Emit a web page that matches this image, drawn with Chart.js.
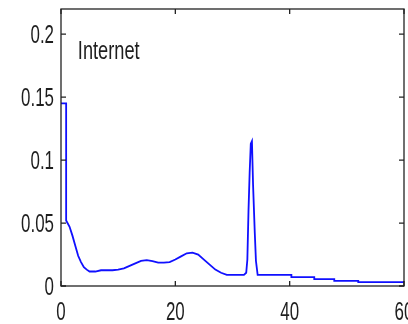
<!DOCTYPE html>
<html>
<head>
<meta charset="utf-8">
<script src="https://cdn.jsdelivr.net/npm/chart.js@4/dist/chart.umd.min.js"></script>
<style>
  html, body { margin: 0; padding: 0; background: #fff; }
  #wrap { width: 408px; height: 324px; }
</style>
</head>
<body>
<div id="wrap"><canvas id="c" width="408" height="324"></canvas></div>
<script>
// Degree distribution curve for the "Internet" dataset
const degree = [0, 0.9, 0.9, 1.5, 2.0, 2.5, 3.0, 3.5, 4.0, 4.5, 5.0, 6.0, 7.0, 9.0, 10.0, 11.0, 12.0, 13.0, 14.0, 15.0,
  16.0, 17.0, 18.0, 19.0, 20.0, 21.0, 22.0, 23.0, 24.0, 25.0, 26.0, 27.0, 28.0, 29.0, 32.0, 32.4, 32.6, 32.8, 33.0, 33.2,
  33.4, 33.6, 33.9, 34.1, 34.4, 40.3, 40.3, 44.3, 44.3, 47.8, 47.8, 52.0, 52.0, 60.0];
const frequency = [0.145, 0.145, 0.052, 0.047, 0.040, 0.032, 0.024, 0.019, 0.015, 0.013, 0.0115, 0.0115, 0.0125, 0.0125, 0.013, 0.014, 0.016, 0.018, 0.020, 0.0205,
  0.0198, 0.0185, 0.0185, 0.019, 0.021, 0.0235, 0.026, 0.0265, 0.025, 0.021, 0.017, 0.013, 0.0105, 0.0088, 0.0088, 0.0105, 0.021, 0.060, 0.090, 0.113,
  0.115, 0.080, 0.042, 0.020, 0.0088, 0.0088, 0.0070, 0.0070, 0.0054, 0.0054, 0.0041, 0.0041, 0.0030, 0.0030];

const xTickValues = [0, 20, 40, 60];
const xTickLabels = ['0', '20', '40', '60'];
const yTickValues = [0, 0.05, 0.1, 0.15, 0.2];
const yTickLabels = ['0', '0.05', '0.1', '0.15', '0.2'];
const panelLabel = 'Internet';

const FONT = "'Liberation Sans', Arial, sans-serif";
const TICK_SIZE = 26;
const TEXT_COLOR = '#1e1e1e';

// Condensed text: draws a string squeezed horizontally, vertically centred on y
function narrowText(ctx, str, x, y, align, size, squeeze) {
  ctx.save();
  ctx.translate(x, y + size * 0.358);
  ctx.scale(squeeze, 1);
  ctx.font = size + 'px ' + FONT;
  ctx.textAlign = align;
  ctx.textBaseline = 'alphabetic';
  ctx.fillStyle = TEXT_COLOR;
  ctx.fillText(str, 0, 0);
  ctx.restore();
}

// Axes box with inward ticks on all four sides, tick labels and the panel label
const framePlugin = {
  id: 'frame',
  afterDatasetsDraw(chart) {
    const { ctx, chartArea: a, scales: { x, y } } = chart;
    const len = 5;
    ctx.save();
    ctx.strokeStyle = '#222';
    ctx.lineWidth = 1.3;
    ctx.strokeRect(a.left, a.top, a.right - a.left, a.bottom - a.top);
    ctx.beginPath();
    xTickValues.forEach(v => {
      const px = x.getPixelForValue(v);
      ctx.moveTo(px, a.bottom); ctx.lineTo(px, a.bottom - len);
      ctx.moveTo(px, a.top); ctx.lineTo(px, a.top + len);
    });
    yTickValues.forEach(v => {
      const py = y.getPixelForValue(v);
      ctx.moveTo(a.left, py); ctx.lineTo(a.left + len, py);
      ctx.moveTo(a.right, py); ctx.lineTo(a.right - len, py);
    });
    ctx.stroke();
    ctx.restore();

    xTickValues.forEach((v, i) => {
      narrowText(ctx, xTickLabels[i], x.getPixelForValue(v), a.bottom + 25, 'center', TICK_SIZE, 0.65);
    });
    yTickValues.forEach((v, i) => {
      narrowText(ctx, yTickLabels[i], a.left - 7, y.getPixelForValue(v), 'right', TICK_SIZE, 0.65);
    });
    narrowText(ctx, panelLabel, x.getPixelForValue(2.95), y.getPixelForValue(0.188), 'left', 26, 0.7);
  }
};

new Chart(document.getElementById('c'), {
  type: 'line',
  data: {
    datasets: [{
      data: degree.map((d, i) => ({ x: d, y: frequency[i] })),
      borderColor: '#1010ff',
      borderWidth: 1.8,
      pointRadius: 0,
      tension: 0,
      fill: false
    }]
  },
  options: {
    responsive: false,
    animation: false,
    events: [],
    layout: { padding: { left: 0, right: 4, top: 9, bottom: 0 } },
    plugins: { legend: { display: false }, tooltip: { enabled: false } },
    scales: {
      x: {
        type: 'linear',
        min: 0, max: 60,
        grid: { display: false, drawTicks: false },
        border: { display: false },
        afterBuildTicks: s => { s.ticks = xTickValues.map(v => ({ value: v })); },
        ticks: { display: false },
        afterFit: s => { s.height = 38; s.paddingLeft = 0; s.paddingRight = 0; }
      },
      y: {
        min: 0, max: 0.22,
        grid: { display: false, drawTicks: false },
        border: { display: false },
        afterBuildTicks: s => { s.ticks = yTickValues.map(v => ({ value: v })); },
        ticks: { display: false },
        afterFit: s => { s.width = 61; s.paddingTop = 0; s.paddingBottom = 0; }
      }
    }
  },
  plugins: [framePlugin]
});
</script>
</body>
</html>
